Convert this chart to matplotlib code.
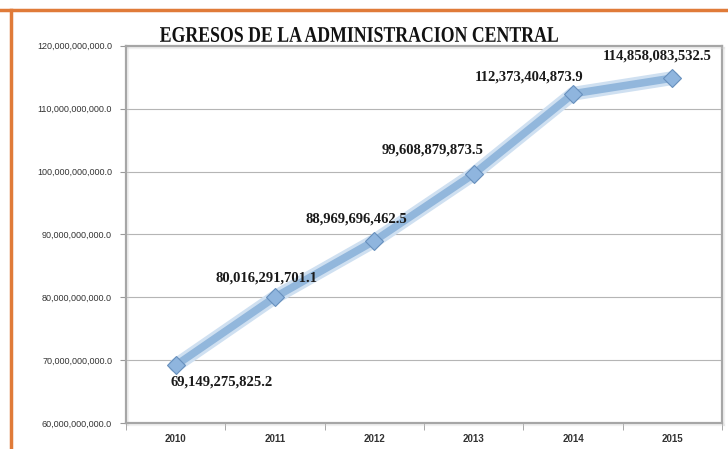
import matplotlib.pyplot as plt
from matplotlib.ticker import FuncFormatter
from matplotlib.lines import Line2D
from matplotlib.textpath import TextPath
from matplotlib.patches import PathPatch
from matplotlib.font_manager import FontProperties
from matplotlib.transforms import Affine2D, IdentityTransform
import matplotlib.patheffects as pe

# Data
years = ['2010', '2011', '2012', '2013', '2014', '2015']
egresos = [69149275825.2, 80016291701.1, 88969696462.5, 99608879873.5,
           112373404873.9, 114858083532.5]
label_offsets = [(33, -12), (-6, 14), (-13, 16), (-30, 17), (-32, 12), (-11, 16)]
title = 'EGRESOS DE LA ADMINISTRACION CENTRAL'

fig = plt.figure(figsize=(7.28, 4.49), dpi=100)
ax = fig.add_axes([0.173, 0.058, 0.819, 0.840])

x = range(len(years))
# soft glow under the line
ax.plot(x, egresos, color='#cfe0f1', lw=10, solid_capstyle='round', zorder=2)
ax.plot(x, egresos, color='#92b7dc', lw=5.5, solid_capstyle='round', zorder=3)
ax.plot(x, egresos, ls='none', marker='D', ms=9, mfc='#8fb5de', mec='#6890bd',
        mew=0.8, zorder=4)

for i, v in enumerate(egresos):
    ax.annotate(f'{v:,.1f}', (i, v), xytext=label_offsets[i], textcoords='offset points',
                ha='center', va='center', fontsize=10.5, fontweight='bold',
                family='Liberation Serif', color='#1a1a1a')

ax.set_xlim(-0.5, 5.5)
ax.set_ylim(60e9, 120e9)
ax.set_yticks([60e9 + i * 10e9 for i in range(7)])
ax.yaxis.set_major_formatter(FuncFormatter(lambda v, p: f'{v:,.1f}'))
ax.set_xticks(list(x))
ax.set_xticklabels(years)
ax.set_xticks([i + 0.5 for i in range(-1, 6)], minor=True)
ax.tick_params(axis='x', which='major', length=0, pad=8)
ax.tick_params(axis='x', which='minor', length=5, color='#999999')
ax.tick_params(axis='y', length=4, color='#999999', pad=6)
for lab in ax.get_yticklabels():
    lab.set_fontsize(6.5)
    lab.set_fontfamily('Liberation Sans')
    lab.set_color('#333333')
for lab in ax.get_xticklabels():
    lab.set_fontsize(7)
    lab.set_fontweight('bold')
    lab.set_fontfamily('Liberation Sans')
    lab.set_color('#333333')

ax.grid(axis='y', color='#b5b5b5', lw=0.8)
ax.set_axisbelow(True)
for s in ax.spines.values():
    s.set_color('#a6a6a6')
    s.set_linewidth(1.6)
    s.set_path_effects([pe.SimpleLineShadow(offset=(1.5, -1.5), shadow_color='#cfcfcf'), pe.Normal()])

# condensed bold serif title drawn as a squeezed text path (pixel coords)
tp = TextPath((0, 0), title, size=20, prop=FontProperties(family='Liberation Serif', weight='bold'))
ext = tp.get_extents()
tw, th = 398, 15
tr = (Affine2D().translate(-ext.x0, -ext.y0)
      .scale(tw / ext.width, th / ext.height)
      .translate(160, 449 - 42))
fig.add_artist(PathPatch(tr.transform_path(tp), transform=IdentityTransform(),
                         facecolor='#111111', edgecolor='none'))

# orange frame (top and left)
fig.add_artist(Line2D([0.0, 1.0], [0.978, 0.978], color='#e07b39', lw=2.5))
fig.add_artist(Line2D([0.015, 0.015], [0.0, 0.978], color='#e07b39', lw=2.5))

fig.savefig('out.png', dpi=100)
